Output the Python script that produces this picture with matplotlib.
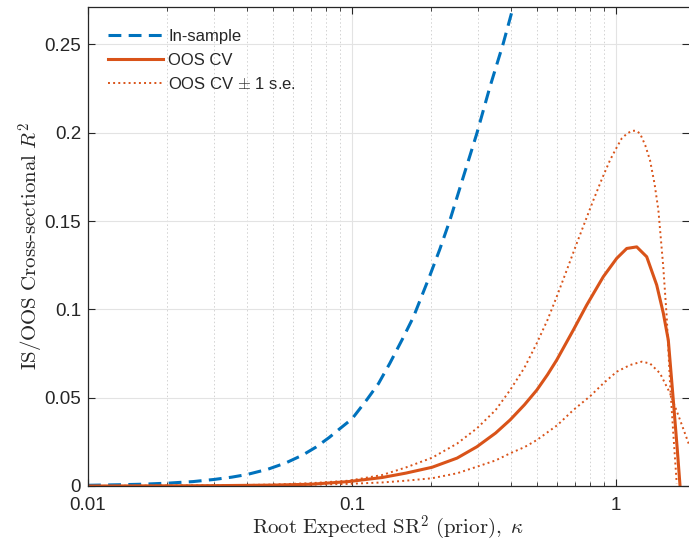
import matplotlib
matplotlib.use("Agg")
import matplotlib.pyplot as plt
from matplotlib.ticker import FixedLocator, NullFormatter

plt.rcParams['font.family'] = ['Liberation Sans', 'DejaVu Sans']
plt.rcParams['mathtext.fontset'] = 'cm'

# in-sample R2
k_is = [0.01, 0.013, 0.016, 0.02, 0.025, 0.03, 0.035, 0.04, 0.048, 0.056, 0.065, 0.073,
        0.082, 0.09, 0.1, 0.114, 0.126, 0.139, 0.155, 0.171, 0.197, 0.215, 0.235, 0.264,
        0.297, 0.333, 0.374, 0.408, 0.45]
r_is = [0.0004, 0.0007, 0.001, 0.0016, 0.0025, 0.0037, 0.005, 0.0065, 0.0095, 0.013, 0.0175, 0.022,
        0.0275, 0.0325, 0.038, 0.049, 0.058, 0.0694, 0.083, 0.0958, 0.119, 0.134, 0.1506, 0.175,
        0.1996, 0.226, 0.2506, 0.2713, 0.297]

# OOS CV
k_oos = [0.01, 0.02, 0.03, 0.05, 0.07, 0.097, 0.13, 0.16, 0.201, 0.25, 0.297, 0.35, 0.397, 0.45,
         0.501, 0.55, 0.596, 0.689, 0.774, 0.895, 1.006, 1.098, 1.198, 1.307, 1.426, 1.51, 1.578,
         1.648, 1.707, 1.748]
r_oos = [0.0, 0.0001, 0.0002, 0.0005, 0.001, 0.0025, 0.0048, 0.0073, 0.0106, 0.0158, 0.0222, 0.030,
         0.0374, 0.046, 0.0543, 0.063, 0.0713, 0.0883, 0.1024, 0.1185, 0.1289, 0.1345, 0.1354,
         0.1298, 0.1138, 0.098, 0.0826, 0.0487, 0.0204, 0.0]

# OOS CV + 1 s.e.
k_up = [0.01, 0.03, 0.05, 0.07, 0.097, 0.13, 0.16, 0.201, 0.25, 0.297, 0.35, 0.397, 0.45, 0.501,
        0.55, 0.596, 0.65, 0.71, 0.765, 0.821, 0.885, 0.949, 1.0, 1.051, 1.1, 1.147, 1.19, 1.233,
        1.29, 1.345, 1.4, 1.447, 1.51, 1.556, 1.602, 1.648, 1.698]
r_up = [0.0, 0.0003, 0.0008, 0.0016, 0.003, 0.0062, 0.0105, 0.016, 0.024, 0.0326, 0.043, 0.0543,
        0.067, 0.0808, 0.094, 0.1071, 0.122, 0.1374, 0.150, 0.1619, 0.174, 0.1845, 0.191, 0.1968,
        0.1995, 0.2011, 0.2012, 0.1996, 0.193, 0.1845, 0.171, 0.1562, 0.1241, 0.0958, 0.0581,
        0.0298, 0.0015]

# OOS CV - 1 s.e.
k_lo = [0.01, 0.05, 0.097, 0.13, 0.16, 0.201, 0.25, 0.297, 0.35, 0.397, 0.45, 0.501, 0.6, 0.689,
        0.8, 0.895, 1.006, 1.13, 1.251, 1.345, 1.468, 1.602, 1.748, 1.89]
r_lo = [0.0, 0.0003, 0.0012, 0.002, 0.003, 0.0044, 0.0072, 0.0109, 0.0145, 0.0185, 0.022, 0.026,
        0.0345, 0.043, 0.051, 0.0581, 0.0647, 0.0685, 0.0704, 0.0694, 0.0638, 0.0525, 0.0374, 0.0235]

blue = '#0072BD'
orange = '#D95319'
dark = '#262626'

fig = plt.figure(figsize=(6.89, 5.46), dpi=100)
ax = fig.add_axes([88/689, 60/546, 1 - 88/689, (486 - 6.7)/546])

ax.plot(k_is, r_is, '--', color=blue, lw=2.2, dashes=(4.2, 2.4), label='In-sample')
ax.plot(k_oos, r_oos, '-', color=orange, lw=2.2, label='OOS CV')
ax.plot(k_up, r_up, ':', color=orange, lw=1.4, label=r'OOS CV $\pm$ 1 s.e.')
ax.plot(k_lo, r_lo, ':', color=orange, lw=1.4)

ax.set_xscale('log')
ax.set_xlim(0.01, 1.89)
ax.set_ylim(0, 0.2714)

ax.xaxis.set_major_locator(FixedLocator([0.01, 0.1, 1]))
ax.set_xticklabels(['0.01', '0.1', '1'])
minors = [m * d for d in [0.01, 0.1, 1] for m in range(2, 10)]
ax.xaxis.set_minor_locator(FixedLocator(minors))
ax.xaxis.set_minor_formatter(NullFormatter())
ax.set_yticks([0, 0.05, 0.1, 0.15, 0.2, 0.25])
ax.set_yticklabels(['0', '0.05', '0.1', '0.15', '0.2', '0.25'])

ax.grid(True, which='major', color='#e3e3e3', lw=0.8, ls='-')
ax.grid(True, which='minor', axis='x', color='#d2d2d2', lw=0.7, ls=(0, (1.5, 2.5)))
ax.set_axisbelow(True)

ax.tick_params(which='both', direction='in', top=True, right=True, colors=dark, labelsize=13.5)
ax.tick_params(axis='x', pad=8)
ax.tick_params(axis='y', pad=5)
ax.tick_params(which='major', length=5, width=0.8)
ax.tick_params(which='minor', length=3, width=0.6)
for s in ['left', 'bottom', 'top']:
    ax.spines[s].set_color(dark)
    ax.spines[s].set_linewidth(0.9)
ax.spines['right'].set_visible(False)

ax.set_xlabel(r'$\mathrm{Root\ Expected\ SR}^2\ \mathrm{(prior)},\ \kappa$', fontsize=15, color=dark, labelpad=-0.5)
ax.set_ylabel(r'$\mathrm{IS/OOS\ Cross\text{-}sectional}\ R^2$', fontsize=15, color=dark, labelpad=-1.5)

leg = ax.legend(loc='upper left', frameon=False, fontsize=12, handlelength=3.3,
                handletextpad=0.3, labelspacing=0.52, borderpad=0, borderaxespad=0,
                bbox_to_anchor=(0.0333, 0.9535))
for t in leg.get_texts():
    t.set_color(dark)

fig.savefig('out.png', dpi=100)
